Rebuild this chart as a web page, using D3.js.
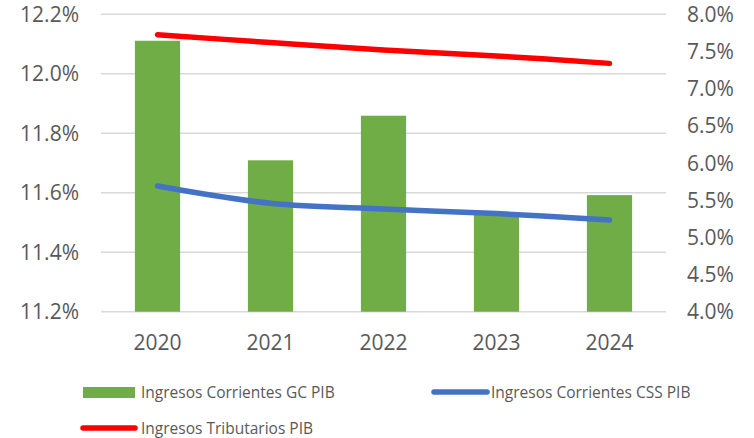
<!DOCTYPE html>
<html>
<head>
<meta charset="utf-8">
<script src="https://cdn.jsdelivr.net/npm/d3@7"></script>
<style>
  body { margin: 0; background: #fff; }
  text { font-family: "Open Sans", sans-serif; fill: #595959; }
</style>
</head>
<body>
<div id="chart"></div>
<script>
// data
const years = ["2020", "2021", "2022", "2023", "2024"];
const gcPib = [12.111, 11.709, 11.859, 11.525, 11.592];      // bars, left axis
const cssPib = [5.69, 5.458, 5.38, 5.32, 5.233];             // blue line, right axis
const tribPib = [7.726, 7.62, 7.52, 7.44, 7.34];             // red line, right axis
const leftTicks = [11.2, 11.4, 11.6, 11.8, 12.0, 12.2];
const rightTicks = [4.0, 4.5, 5.0, 5.5, 6.0, 6.5, 7.0, 7.5, 8.0];
const seriesNames = ["Ingresos Corrientes GC PIB", "Ingresos Corrientes CSS PIB", "Ingresos Tributarios PIB"];

const width = 754, height = 438;
const plot = { left: 101, right: 666, top: 14.3, bottom: 311.7 };

const svg = d3.select("#chart").append("svg")
  .attr("width", width)
  .attr("height", height);

const x = d3.scaleBand()
  .domain(years)
  .range([plot.left, plot.right])
  .paddingInner(0.6)
  .paddingOuter(0.3);

const yLeft = d3.scaleLinear().domain([11.2, 12.2]).range([plot.bottom, plot.top]);
const yRight = d3.scaleLinear().domain([4, 8]).range([plot.bottom, plot.top]);

// gridlines
svg.selectAll("line.grid")
  .data(leftTicks)
  .join("line")
  .attr("class", "grid")
  .attr("x1", plot.left).attr("x2", plot.right)
  .attr("y1", d => yLeft(d)).attr("y2", d => yLeft(d))
  .attr("stroke", "#d9d9d9")
  .attr("stroke-width", 1.5);

// left axis labels
svg.selectAll("text.yl")
  .data(leftTicks)
  .join("text")
  .attr("class", "yl")
  .attr("x", 79)
  .attr("y", d => yLeft(d))
  .attr("dy", "0.36em")
  .attr("text-anchor", "end")
  .style("font-size", "21px")
  .text(d => d3.format(".1f")(d) + "%");

// right axis labels
svg.selectAll("text.yr")
  .data(rightTicks)
  .join("text")
  .attr("class", "yr")
  .attr("x", 687)
  .attr("y", d => yRight(d))
  .attr("dy", "0.36em")
  .style("font-size", "21px")
  .text(d => d3.format(".1f")(d) + "%");

// x labels
svg.selectAll("text.xl")
  .data(years)
  .join("text")
  .attr("class", "xl")
  .attr("x", d => x(d) + x.bandwidth() / 2)
  .attr("y", 350)
  .attr("text-anchor", "middle")
  .style("font-size", "21px")
  .text(d => d);

// bars
svg.selectAll("rect.bar")
  .data(gcPib)
  .join("rect")
  .attr("class", "bar")
  .attr("x", (d, i) => x(years[i]))
  .attr("width", x.bandwidth())
  .attr("y", d => yLeft(d))
  .attr("height", d => plot.bottom - yLeft(d))
  .attr("fill", "#70ad47");

const line = d3.line()
  .x((d, i) => x(years[i]) + x.bandwidth() / 2)
  .y(d => yRight(d))
  .curve(d3.curveCatmullRom.alpha(0.5));

svg.append("path")
  .attr("d", line(cssPib))
  .attr("fill", "none")
  .attr("stroke", "#4472c4")
  .attr("stroke-width", 5.5)
  .attr("stroke-linecap", "round");

svg.append("path")
  .attr("d", line(tribPib))
  .attr("fill", "none")
  .attr("stroke", "#ff0000")
  .attr("stroke-width", 5.5)
  .attr("stroke-linecap", "round");

// legend
const legend = svg.append("g");
legend.append("rect")
  .attr("x", 83).attr("y", 387).attr("width", 52).attr("height", 11)
  .attr("fill", "#70ad47");
legend.append("text")
  .attr("x", 141).attr("y", 392.5).attr("dy", "0.36em")
  .style("font-size", "15.5px").text(seriesNames[0]);

legend.append("line")
  .attr("x1", 434).attr("x2", 487).attr("y1", 392).attr("y2", 392)
  .attr("stroke", "#4472c4").attr("stroke-width", 5.5).attr("stroke-linecap", "round");
legend.append("text")
  .attr("x", 491).attr("y", 392.5).attr("dy", "0.36em")
  .style("font-size", "15.5px").text(seriesNames[1]);

legend.append("line")
  .attr("x1", 83).attr("x2", 135).attr("y1", 428).attr("y2", 428)
  .attr("stroke", "#ff0000").attr("stroke-width", 5.5).attr("stroke-linecap", "round");
legend.append("text")
  .attr("x", 141).attr("y", 428.5).attr("dy", "0.36em")
  .style("font-size", "15.5px").text(seriesNames[2]);
</script>
</body>
</html>
